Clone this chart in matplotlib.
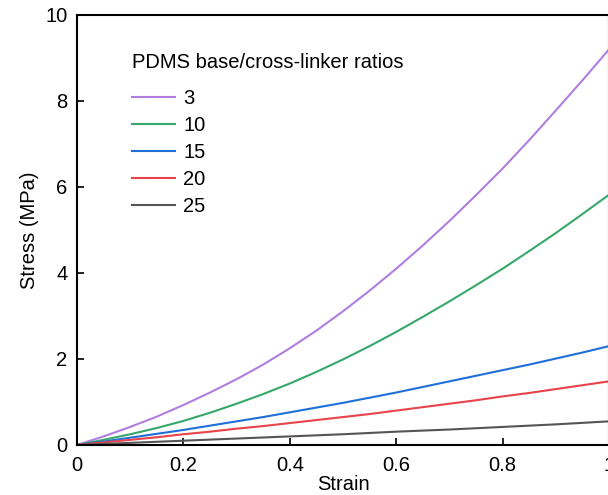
import matplotlib.pyplot as plt

plt.rcParams['font.family'] = ['Liberation Sans', 'DejaVu Sans']

ratios = ['3', '10', '15', '20', '25']
colors = ['#b07ee0', '#35a86a', '#1f6fd8', '#e8434a', '#555555']

strain = [0, 0.05, 0.1, 0.15, 0.2, 0.25, 0.3, 0.35, 0.4, 0.45, 0.5,
          0.55, 0.6, 0.65, 0.7, 0.75, 0.8, 0.85, 0.9, 0.95, 1.0]

stress_3 = [0, 0.2, 0.42, 0.66, 0.93, 1.22, 1.53, 1.87, 2.25, 2.66, 3.11,
            3.59, 4.1, 4.64, 5.21, 5.81, 6.43, 7.09, 7.78, 8.48, 9.2]
stress_10 = [0, 0.12, 0.25, 0.395, 0.56, 0.75, 0.96, 1.185, 1.43, 1.7, 1.99,
             2.3, 2.63, 2.98, 3.34, 3.715, 4.1, 4.51, 4.93, 5.37, 5.82]
stress_15 = [0, 0.08, 0.17, 0.26, 0.35, 0.45, 0.55, 0.65, 0.76, 0.87, 0.98,
             1.1, 1.22, 1.35, 1.48, 1.61, 1.74, 1.87, 2.01, 2.15, 2.3]
stress_20 = [0, 0.06, 0.12, 0.18, 0.25, 0.31, 0.38, 0.44, 0.51, 0.58, 0.65,
             0.72, 0.8, 0.88, 0.96, 1.04, 1.13, 1.21, 1.3, 1.39, 1.48]
stress_25 = [0, 0.025, 0.05, 0.075, 0.1, 0.125, 0.15, 0.175, 0.2, 0.225, 0.25,
             0.28, 0.31, 0.335, 0.36, 0.39, 0.42, 0.45, 0.48, 0.515, 0.55]

stresses = [stress_3, stress_10, stress_15, stress_20, stress_25]

fig = plt.figure(figsize=(6.08, 4.95), dpi=100)
ax = fig.add_axes([77/608, 50/495, 532/608, 430/495])

for y, c, lab in zip(stresses, colors, ratios):
    ax.plot(strain, y, color=c, lw=1.5, label=lab)

ax.set_xlim(0, 1)
ax.set_ylim(0, 10)
ax.set_xticks([0, 0.2, 0.4, 0.6, 0.8, 1.0])
ax.set_xticklabels(['0', '0.2', '0.4', '0.6', '0.8', '1'])
ax.set_yticks([0, 2, 4, 6, 8, 10])
ax.tick_params(direction='in', length=5, width=1.2, labelsize=14.5)
ax.tick_params(axis='x', pad=8)
ax.tick_params(axis='y', pad=7)
for s in ax.spines.values():
    s.set_linewidth(1.5)
ax.set_xlabel('Strain', fontsize=14.5, labelpad=0)
ax.set_ylabel('Stress (MPa)', fontsize=14.5, labelpad=4)

leg = ax.legend(title='PDMS base/cross-linker ratios', frameon=False,
                loc='upper left', bbox_to_anchor=(0.088, 0.93),
                fontsize=14.5, title_fontsize=14.5, handlelength=2.15,
                handletextpad=0.4, labelspacing=0.4, alignment='left',
                borderaxespad=0)
leg._legend_box.sep = 12

plt.savefig('out.png', dpi=100)
